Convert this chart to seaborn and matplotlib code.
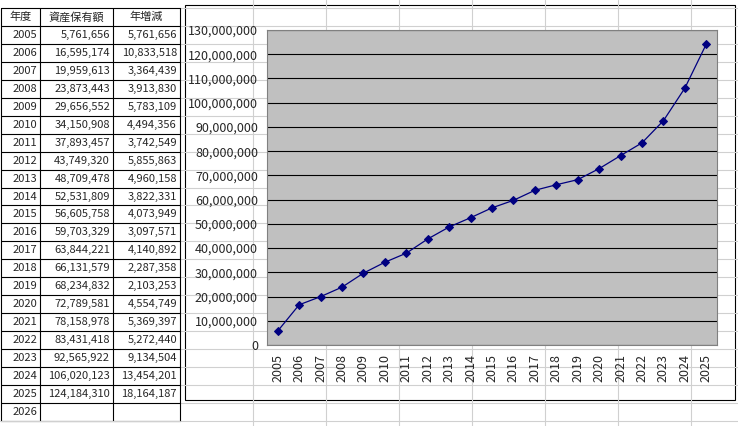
import matplotlib
matplotlib.use("Agg")
import matplotlib.pyplot as plt
import seaborn as sns
import pandas as pd
from matplotlib.ticker import FuncFormatter, MultipleLocator

sns.set_style("white")
plt.rcParams['font.family'] = ['Noto Sans CJK JP', 'DejaVu Sans']

# === Data ===
years = [2005, 2006, 2007, 2008, 2009, 2010, 2011, 2012, 2013, 2014, 2015,
         2016, 2017, 2018, 2019, 2020, 2021, 2022, 2023, 2024, 2025]
assets = [5761656, 16595174, 19959613, 23873443, 29656552, 34150908, 37893457,
          43749320, 48709478, 52531809, 56605758, 59703329, 63844221, 66131579,
          68234832, 72789581, 78158978, 83431418, 92565922, 106020123, 124184310]
yearly_change = [5761656, 10833518, 3364439, 3913830, 5783109, 4494356, 3742549,
                 5855863, 4960158, 3822331, 4073949, 3097571, 4140892, 2287358,
                 2103253, 4554749, 5369397, 5272440, 9134504, 13454201, 18164187]
headers = ["年度", "資産保有額", "年増減"]

W, H = 738, 426
fig = plt.figure(figsize=(W / 100, H / 100), dpi=100)
bg = fig.add_axes([0, 0, 1, 1])
bg.set_xlim(0, W)
bg.set_ylim(H, 0)
bg.axis("off")

# spreadsheet grid
row0 = 17.0
pitch = 17.95
n_rows = len(years) + 2
bounds = [row0 - pitch / 2 + pitch * i for i in range(n_rows + 2)]
for y in bounds:
    bg.plot([180, W], [y, y], color="#d0d0d0", lw=0.8)
for x in [253, 326, 399, 472, 545, 618, 691]:
    bg.plot([x, x], [0, H], color="#d0d0d0", lw=0.8)
# table borders
cols = [1, 40, 113, 180]
tbl_bottom = bounds[n_rows]
for y in bounds[:n_rows + 1]:
    bg.plot([cols[0], cols[-1]], [y, y], color="black", lw=0.8)
for x in cols:
    bg.plot([x, x], [bounds[0], tbl_bottom], color="black", lw=0.8)
for y in bounds[n_rows:]:
    bg.plot([0, 180], [y, y], color="#d0d0d0", lw=0.8)

fs = 8
for j, h in enumerate(headers):
    bg.text((cols[j] + cols[j + 1]) / 2, row0, h, ha="center", va="center", fontsize=fs)
for i, yr in enumerate(years + [2026]):
    yc = row0 + pitch * (i + 1)
    bg.text(cols[1] - 3, yc, str(yr), ha="right", va="center", fontsize=fs)
    if i < len(years):
        bg.text(cols[2] - 3, yc, f"{assets[i]:,}", ha="right", va="center", fontsize=fs)
        bg.text(cols[3] - 3, yc, f"{yearly_change[i]:,}", ha="right", va="center", fontsize=fs)

# chart box
bg.add_patch(plt.Rectangle((185, 5), 550, 395, facecolor="white", edgecolor="black", lw=0.8))

# === Chart ===
df = pd.DataFrame({"year": years, "assets": assets})
ax = fig.add_axes([267 / W, (H - 345) / H, 450 / W, 315 / H])
ax.set_facecolor("#c0c0c0")
sns.lineplot(data=df, x="year", y="assets", ax=ax, color="#000080", lw=0.9,
             marker="D", markersize=4, markeredgecolor="#000080")
ax.set_xlim(2004.5, 2025.5)
ax.set_ylim(0, 130000000)
ax.yaxis.set_major_locator(MultipleLocator(10000000))
ax.yaxis.set_major_formatter(FuncFormatter(lambda v, p: f"{int(v):,}"))
ax.set_xticks(years)
ax.set_xticklabels([str(y) for y in years], rotation=90)
ax.grid(axis="y", color="black", lw=0.8)
ax.set_axisbelow(True)
ax.set_xlabel("")
ax.set_ylabel("")
for s in ax.spines.values():
    s.set_color("#808080")
    s.set_linewidth(0.8)
ax.tick_params(axis="both", labelsize=9, length=3, color="black")

plt.savefig("out.png", dpi=100)
